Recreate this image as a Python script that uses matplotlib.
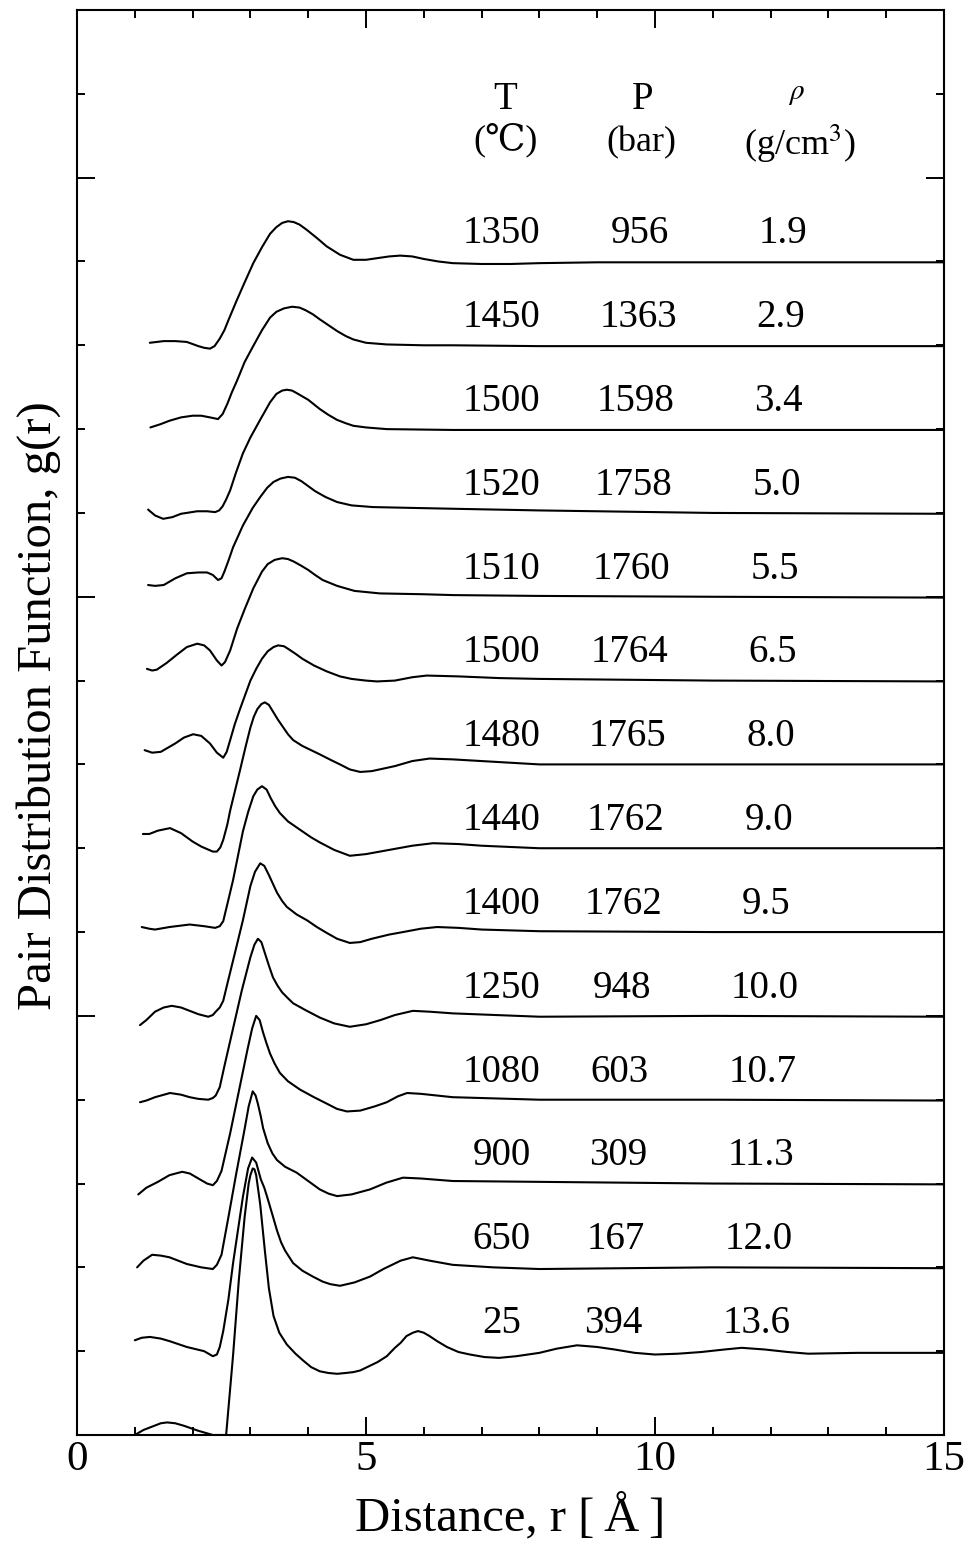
import matplotlib
matplotlib.use("Agg")
import matplotlib.pyplot as plt
from matplotlib.ticker import MultipleLocator

plt.rcParams['font.family'] = ['Liberation Serif', 'DejaVu Serif', 'DejaVu Sans']
plt.rcParams['mathtext.fontset'] = 'stix'

# table values, bottom curve first
temps = ['25', '650', '900', '1080', '1250', '1400', '1440', '1480',
         '1500', '1510', '1520', '1500', '1450', '1350']
press = ['394', '167', '309', '603', '948', '1762', '1762', '1765',
         '1764', '1760', '1758', '1598', '1363', '956']
dens = ['13.6', '12.0', '11.3', '10.7', '10.0', '9.5', '9.0', '8.0',
        '6.5', '5.5', '5.0', '3.4', '2.9', '1.9']

# g(r) (each curve is shifted up by 1 in the plot)
r_25 = [1.0, 1.15, 1.3, 1.45, 1.56, 1.7, 1.85, 2.1, 2.35, 2.58, 2.7, 2.8, 2.9, 2.97, 3.0,
        3.04, 3.07, 3.1, 3.17, 3.25, 3.32, 3.4, 3.5, 3.63, 3.78, 3.91, 4.05, 4.2, 4.35,
        4.5, 4.65, 4.78, 4.9, 5.02, 5.2, 5.36, 5.5, 5.6, 5.7, 5.81, 5.9, 6.0, 6.1, 6.23,
        6.4, 6.6, 6.8, 7.05, 7.3, 7.6, 8.0, 8.3, 8.65, 9.0, 9.3, 9.65, 10.0, 10.4, 10.8,
        11.2, 11.5, 11.9, 12.3, 12.65, 13.5, 15.0]
g_25 = [0.0, 0.06, 0.10, 0.14, 0.15, 0.14, 0.11, 0.05, 0.0, 0.0, 0.95, 1.85, 2.60, 3.0, 3.1,
        3.18, 3.17, 3.10, 2.75, 2.20, 1.75, 1.42, 1.22, 1.08, 0.97, 0.89, 0.81, 0.76, 0.74,
        0.73, 0.74, 0.75, 0.77, 0.81, 0.87, 0.94, 1.04, 1.10, 1.18, 1.22, 1.24, 1.22, 1.18, 1.12,
        1.05, 0.99, 0.96, 0.93, 0.92, 0.94, 0.98, 1.03, 1.07, 1.05, 1.02, 0.98, 0.96, 0.97, 0.99,
        1.02, 1.04, 1.02, 0.99, 0.97, 0.98, 0.98]

r_650 = [1.0, 1.12, 1.26, 1.45, 1.6, 1.9, 2.2, 2.35, 2.42, 2.47, 2.53, 2.62, 2.7, 2.87,
         2.96, 3.03, 3.1, 3.18, 3.24, 3.29, 3.38, 3.46, 3.53, 3.6, 3.74, 3.9, 4.08, 4.25,
         4.38, 4.55, 4.8, 5.07, 5.3, 5.45, 5.6, 5.81, 6.1, 6.5, 7.2, 8.0, 11.0, 15.0]
g_650 = [0.13, 0.16, 0.17, 0.15, 0.12, 0.05, 0.0, -0.06, -0.04, 0.05, 0.24, 0.62, 1.05, 1.84,
         2.18, 2.31, 2.25, 2.05, 1.95, 1.84, 1.63, 1.44, 1.30, 1.20, 1.05, 0.96, 0.89, 0.83,
         0.80, 0.78, 0.82, 0.89, 0.98, 1.03, 1.08, 1.12, 1.08, 1.03, 1.0, 0.98, 1.0, 0.99]

r_900 = [1.04, 1.15, 1.3, 1.45, 1.6, 1.9, 2.15, 2.35, 2.42, 2.5, 2.62, 2.75, 2.9, 2.97,
         3.04, 3.09, 3.13, 3.18, 3.22, 3.3, 3.38, 3.46, 3.6, 3.8, 4.0, 4.2, 4.35, 4.5,
         4.75, 5.07, 5.35, 5.64, 5.95, 6.5, 8.0, 11.0, 15.0]
g_900 = [0.0, 0.08, 0.15, 0.14, 0.12, 0.04, 0.0, -0.02, 0.03, 0.15, 0.60, 1.10, 1.65, 1.92,
         2.10, 2.05, 1.95, 1.80, 1.66, 1.48, 1.36, 1.28, 1.20, 1.13, 1.03, 0.93, 0.88, 0.85,
         0.87, 0.93, 1.01, 1.07, 1.06, 1.03, 1.02, 1.0, 0.99]

r_1080 = [1.06, 1.2, 1.4, 1.6, 1.82, 1.95, 2.1, 2.25, 2.35, 2.42, 2.5, 2.65, 2.8, 2.95,
          3.03, 3.1, 3.16, 3.22, 3.28, 3.34, 3.42, 3.51, 3.65, 3.86, 4.1, 4.33, 4.5, 4.67,
          4.9, 5.15, 5.36, 5.55, 5.71, 5.95, 6.5, 8.0, 11.0, 15.0]
g_1080 = [-0.13, -0.05, 0.02, 0.10, 0.14, 0.12, 0.06, 0.0, -0.02, 0.03, 0.15, 0.60, 1.10, 1.60,
          1.85, 2.0, 1.95, 1.80, 1.67, 1.55, 1.43, 1.32, 1.22, 1.12, 1.03, 0.95, 0.89, 0.86,
          0.87, 0.92, 0.97, 1.04, 1.08, 1.07, 1.03, 1.0, 1.0, 0.99]

r_1250 = [1.09, 1.2, 1.35, 1.61, 1.8, 1.95, 2.1, 2.27, 2.35, 2.4, 2.47, 2.55, 2.7, 2.85,
          3.0, 3.07, 3.13, 3.19, 3.25, 3.32, 3.39, 3.47, 3.55, 3.65, 3.74, 3.95, 4.2, 4.45,
          4.72, 5.0, 5.25, 5.5, 5.81, 6.1, 6.5, 8.0, 11.0, 15.0]
g_1250 = [-0.03, -0.01, 0.03, 0.08, 0.06, 0.03, 0.01, 0.0, 0.02, 0.05, 0.15, 0.40, 0.85, 1.30,
          1.70, 1.85, 1.92, 1.88, 1.75, 1.60, 1.46, 1.36, 1.28, 1.21, 1.15, 1.07, 0.98, 0.91,
          0.87, 0.90, 0.95, 1.01, 1.06, 1.05, 1.03, 0.99, 1.0, 0.99]

r_1400 = [1.09, 1.2, 1.35, 1.5, 1.64, 1.8, 1.95, 2.1, 2.27, 2.35, 2.4, 2.47, 2.53, 2.6,
          2.7, 2.87, 3.0, 3.08, 3.17, 3.24, 3.32, 3.4, 3.46, 3.55, 3.63, 3.8, 3.98, 4.15,
          4.32, 4.5, 4.72, 4.9, 5.1, 5.4, 5.64, 5.95, 6.23, 6.6, 7.0, 8.0, 11.0, 15.0]
g_1400 = [-0.11, -0.05, 0.05, 0.10, 0.12, 0.10, 0.06, 0.02, -0.01, 0.01, 0.05, 0.10, 0.18, 0.38,
          0.66, 1.14, 1.55, 1.72, 1.82, 1.79, 1.68, 1.56, 1.47, 1.37, 1.30, 1.21, 1.14, 1.06,
          0.99, 0.92, 0.87, 0.88, 0.92, 0.97, 1.0, 1.04, 1.06, 1.05, 1.03, 1.01, 1.0, 1.0]

r_1440 = [1.12, 1.25, 1.35, 1.6, 1.95, 2.2, 2.39, 2.47, 2.53, 2.6, 2.7, 2.87, 2.96, 3.05,
          3.12, 3.2, 3.28, 3.35, 3.43, 3.51, 3.65, 3.86, 4.05, 4.2, 4.45, 4.72, 5.0, 5.4,
          5.8, 6.16, 6.6, 7.0, 8.0, 11.0, 15.0]
g_1440 = [0.06, 0.04, 0.03, 0.06, 0.09, 0.07, 0.05, 0.07, 0.13, 0.33, 0.62, 1.20, 1.43, 1.62,
          1.70, 1.74, 1.70, 1.60, 1.50, 1.42, 1.32, 1.22, 1.13, 1.07, 0.98, 0.91, 0.93, 0.98,
          1.03, 1.06, 1.05, 1.03, 1.0, 1.0, 1.0]

r_1480 = [1.14, 1.25, 1.4, 1.61, 1.8, 2.0, 2.15, 2.25, 2.35, 2.42, 2.48, 2.53, 2.6, 2.65,
          2.82, 2.92, 3.0, 3.06, 3.12, 3.19, 3.25, 3.32, 3.4, 3.48, 3.56, 3.65, 3.74, 3.9,
          4.05, 4.2, 4.4, 4.55, 4.72, 4.9, 5.1, 5.5, 5.8, 6.1, 6.5, 7.0, 8.0, 11.0, 15.0]
g_1480 = [0.17, 0.17, 0.21, 0.24, 0.18, 0.08, 0.02, -0.01, -0.04, -0.04, 0.01, 0.10, 0.28, 0.45,
          0.93, 1.22, 1.44, 1.57, 1.66, 1.72, 1.74, 1.71, 1.62, 1.53, 1.45, 1.36, 1.29, 1.22,
          1.17, 1.12, 1.05, 1.0, 0.94, 0.91, 0.92, 0.98, 1.04, 1.07, 1.06, 1.04, 1.0, 1.0, 1.0]

r_1500b = [1.17, 1.3, 1.45, 1.7, 1.85, 2.01, 2.15, 2.3, 2.42, 2.53, 2.59, 2.65, 2.73, 2.82,
           3.0, 3.1, 3.2, 3.3, 3.4, 3.48, 3.58, 3.65, 3.78, 3.9, 4.1, 4.32, 4.55, 4.75,
           5.0, 5.19, 5.5, 5.8, 6.05, 6.6, 7.3, 8.0, 11.0, 15.0]
g_1500b = [0.17, 0.14, 0.15, 0.25, 0.32, 0.36, 0.34, 0.25, 0.14, 0.08, 0.15, 0.29, 0.48, 0.66,
           1.0, 1.14, 1.26, 1.35, 1.40, 1.42, 1.41, 1.38, 1.32, 1.26, 1.18, 1.11, 1.05, 1.02,
           1.0, 0.99, 1.0, 1.04, 1.06, 1.05, 1.03, 1.02, 1.0, 0.99]

r_1510 = [1.21, 1.3, 1.38, 1.55, 1.73, 1.9, 2.08, 2.2, 2.3, 2.42, 2.5, 2.56, 2.65, 2.77,
          2.9, 3.05, 3.2, 3.3, 3.42, 3.55, 3.65, 3.75, 3.88, 4.0, 4.12, 4.25, 4.5, 4.8,
          5.24, 6.0, 6.5, 8.0, 11.0, 15.0]
g_1510 = [0.14, 0.12, 0.13, 0.21, 0.31, 0.40, 0.44, 0.42, 0.36, 0.24, 0.18, 0.22, 0.36, 0.62,
          0.85, 1.10, 1.30, 1.39, 1.44, 1.46, 1.45, 1.42, 1.37, 1.32, 1.26, 1.20, 1.13, 1.07,
          1.04, 1.03, 1.02, 1.01, 1.0, 0.99]

r_1520 = [1.23, 1.35, 1.5, 1.7, 1.9, 2.1, 2.25, 2.35, 2.44, 2.5, 2.55, 2.62, 2.7, 2.87,
          3.04, 3.17, 3.29, 3.4, 3.52, 3.65, 3.77, 3.88, 4.0, 4.12, 4.3, 4.5, 4.75, 5.12,
          5.8, 6.5, 8.0, 11.0, 15.0]
g_1520 = [0.14, 0.13, 0.14, 0.22, 0.28, 0.29, 0.29, 0.26, 0.20, 0.22, 0.30, 0.43, 0.59, 0.85,
          1.06, 1.19, 1.30, 1.37, 1.41, 1.43, 1.42, 1.38, 1.32, 1.26, 1.19, 1.13, 1.09, 1.07,
          1.06, 1.05, 1.03, 1.0, 0.99]

r_1500a = [1.23, 1.35, 1.49, 1.65, 1.8, 2.08, 2.25, 2.39, 2.46, 2.52, 2.58, 2.65, 2.75, 2.87,
           3.0, 3.16, 3.34, 3.45, 3.55, 3.63, 3.72, 3.8, 3.9, 4.0, 4.2, 4.35, 4.5, 4.65,
           4.78, 5.0, 5.36, 6.5, 8.0, 11.0, 15.0]
g_1500a = [0.04, -0.03, -0.07, -0.05, -0.01, 0.02, 0.02, 0.01, 0.03, 0.08, 0.16, 0.27, 0.48, 0.71,
           0.90, 1.10, 1.32, 1.42, 1.46, 1.47, 1.46, 1.43, 1.39, 1.35, 1.24, 1.17, 1.11, 1.07,
           1.04, 1.02, 1.0, 0.99, 0.99, 0.99, 0.99]

r_1450 = [1.27, 1.45, 1.6, 1.8, 2.0, 2.15, 2.3, 2.44, 2.52, 2.6, 2.68, 2.77, 2.9, 3.04,
          3.2, 3.34, 3.45, 3.58, 3.72, 3.85, 3.95, 4.08, 4.2, 4.35, 4.5, 4.65, 4.78, 5.0,
          5.36, 6.0, 6.5, 8.0, 11.0, 15.0]
g_1450 = [0.02, 0.06, 0.10, 0.14, 0.16, 0.16, 0.14, 0.12, 0.18, 0.30, 0.44, 0.58, 0.80, 0.98,
          1.18, 1.33, 1.40, 1.44, 1.46, 1.45, 1.42, 1.37, 1.31, 1.24, 1.17, 1.11, 1.07, 1.03,
          1.01, 1.0, 1.0, 0.99, 0.99, 0.99]

r_1350 = [1.26, 1.5, 1.7, 1.9, 2.1, 2.2, 2.3, 2.38, 2.47, 2.55, 2.62, 2.76, 2.9, 3.05,
          3.2, 3.34, 3.45, 3.55, 3.65, 3.75, 3.85, 3.97, 4.15, 4.32, 4.55, 4.78, 5.0, 5.2,
          5.4, 5.59, 5.8, 6.0, 6.25, 6.5, 7.0, 7.5, 8.0, 9.0, 11.0, 13.0, 15.0]
g_1350 = [0.03, 0.05, 0.05, 0.04, -0.01, -0.03, -0.04, -0.01, 0.08, 0.18, 0.30, 0.53, 0.75, 0.98,
          1.17, 1.33, 1.41, 1.46, 1.48, 1.47, 1.44, 1.38, 1.28, 1.18, 1.08, 1.02, 1.02, 1.04,
          1.06, 1.07, 1.06, 1.03, 1.0, 0.98, 0.97, 0.97, 0.98, 0.99, 0.99, 0.99, 0.99]

curves = [(r_25, g_25), (r_650, g_650), (r_900, g_900), (r_1080, g_1080),
          (r_1250, g_1250), (r_1400, g_1400), (r_1440, g_1440), (r_1480, g_1480),
          (r_1500b, g_1500b), (r_1510, g_1510), (r_1520, g_1520), (r_1500a, g_1500a),
          (r_1450, g_1450), (r_1350, g_1350)]

fig = plt.figure(figsize=(9.75, 15.45), dpi=100)
ax = fig.add_axes([77 / 975, 110 / 1545, 867 / 975, 1425 / 1545])

for i, (r, g) in enumerate(curves):
    ax.plot(r, [v + i for v in g], color='black', lw=1.5,
            solid_joinstyle='round', solid_capstyle='round')

# T / P / rho table
fs = 28
for i in range(len(temps)):
    y = i + 1.33
    k = len(temps) - 1 - i
    ax.text(7.35, y, temps[i], ha='center', va='center', fontsize=fs)
    ax.text(9.74 - 0.035 * k, y, press[i], ha='center', va='center', fontsize=fs)
    ax.text(12.21 - 0.035 * k, y, dens[i], ha='center', va='center', fontsize=fs)

ax.text(7.4, 15.93, 'T', ha='center', va='center', fontsize=fs)
ax.text(7.42, 15.45, '(\u2103)', ha='center', va='center', fontsize=26)
ax.text(9.78, 15.93, 'P', ha='center', va='center', fontsize=fs)
ax.text(9.76, 15.42, '(bar)', ha='center', va='center', fontsize=26)
ax.text(12.45, 16.0, r'$\rho$', ha='center', va='center', fontsize=21)
ax.text(12.5, 15.4, '(g/cm$^3$)', ha='center', va='center', fontsize=26)

ax.set_xlim(0, 15)
ax.set_ylim(0, 17)
ax.xaxis.set_major_locator(MultipleLocator(5))
ax.xaxis.set_minor_locator(MultipleLocator(1))
ax.yaxis.set_major_locator(MultipleLocator(5))
ax.yaxis.set_minor_locator(MultipleLocator(1))
ax.tick_params(which='both', direction='in', top=True, right=True, width=1.4)
ax.tick_params(which='major', length=13, labelsize=31, pad=4)
ax.tick_params(which='minor', length=6)
ax.tick_params(axis='y', labelleft=False)
for s in ax.spines.values():
    s.set_linewidth(1.5)

ax.set_xlabel('Distance, r [\u2009\u00c5\u2009]', fontsize=35, labelpad=10)
ax.set_ylabel('Pair Distribution Function, g(r)', fontsize=35, labelpad=8)
ax.yaxis.label.set_y(0.512)

fig.savefig('out.png', dpi=100)
